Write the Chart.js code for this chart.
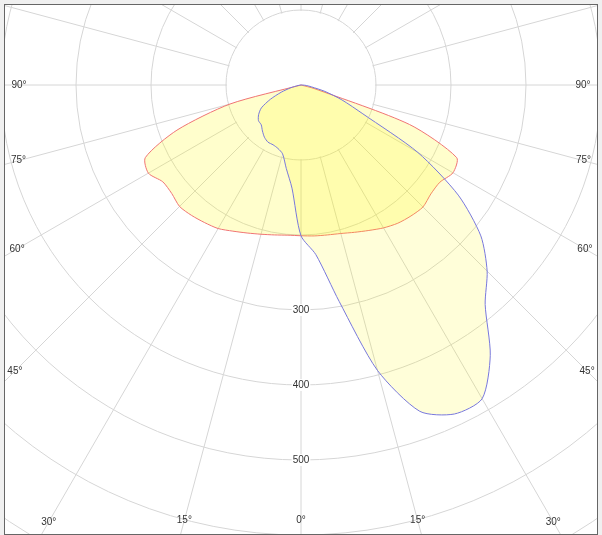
<!DOCTYPE html>
<html>
<head>
<meta charset="utf-8">
<script src="https://cdn.jsdelivr.net/npm/chart.js@4.4.1/dist/chart.umd.min.js"></script>
<style>
  html, body { margin: 0; padding: 0; background: #f0f0f0; }
  #frame { position: absolute; left: 4px; top: 4px; width: 592px; height: 529px;
           border: 1px solid #666; background: #fff; overflow: hidden; }
  #polar { position: absolute; left: -304px; top: -520px; }
</style>
</head>
<body>
<div id="frame"><canvas id="polar" width="1200" height="1200"></canvas></div>
<script>
// Photometric polar curve, cd/klm. Gamma measured from nadir (straight down).

const GAMMA = [0, 5, 10, 15, 20, 25, 30, 35, 40, 45, 50, 55, 60, 65, 70, 75, 80, 85, 90,
               95, 100, 105, 110, 115, 120, 125, 130, 135, 140, 145, 150, 155, 160, 165, 170, 175, 180];

// C0-C180 plane (red): left half, right half
const RED_LEFT  = [201, 201, 203, 206, 210, 215, 221, 224, 227, 229, 225, 225, 235, 229, 176, 98, 0, 0, 0,
                   0, 0, 0, 0, 0, 0, 0, 0, 0, 0, 0, 0, 0, 0, 0, 0, 0, 0];
const RED_RIGHT = [201, 202, 203, 205, 209, 214, 220, 225, 228, 230, 226, 226, 234, 229, 154, 18, 0, 0, 0,
                   0, 0, 0, 0, 0, 0, 0, 0, 0, 0, 0, 0, 0, 0, 0, 0, 0, 0];

// C90-C270 plane (blue)
const BLUE_LEFT  = [201, 138, 113, 95, 90, 88, 88, 85, 80, 75, 74, 69, 61, 45, 28, 14, 4, 0, 0,
                    0, 0, 0, 0, 0, 0, 0, 0, 0, 0, 0, 0, 0, 0, 0, 0, 0, 0];
const BLUE_RIGHT = [201, 227, 293, 394, 463, 484, 483, 440, 382, 351, 313, 256, 180, 91, 58, 33, 14, 7, 2,
                    0, 0, 0, 0, 0, 0, 0, 0, 0, 0, 0, 0, 0, 0, 0, 0, 0, 0];

const ANGLE_MARKS = [0, 15, 30, 45, 60, 75, 90];
const VALUE_MARKS = [300, 400, 500];

const GRID = '#d6d6d6';
const TEXT = '#333';
const FONT = '10px "Liberation Sans", Arial, sans-serif';

// radar index 0 points down and runs clockwise: down, left, up, right
function ring(left, right) {
    return left.concat(right.slice(1, -1).reverse());
}

const labels = ring(GAMMA, GAMMA);

const polarDecor = {
    id: 'polarDecor',
    beforeDatasetsDraw(chart) {
        // keep the spokes out of the innermost ring
        const r = chart.scales.r, ctx = chart.ctx;
        ctx.save();
        ctx.fillStyle = '#fff';
        ctx.beginPath();
        ctx.arc(r.xCenter, r.yCenter, r.getDistanceFromCenterForValue(100) - 1, 0, Math.PI * 2);
        ctx.fill();
        ctx.restore();
    },
    afterDatasetsDraw(chart) {
        const r = chart.scales.r, ctx = chart.ctx, cv = chart.canvas;
        const x0 = -cv.offsetLeft, y0 = -cv.offsetTop;
        const x1 = x0 + cv.parentNode.clientWidth, y1 = y0 + cv.parentNode.clientHeight;
        const n = labels.length;
        ctx.save();
        ctx.font = FONT;
        ctx.textAlign = 'center';
        ctx.textBaseline = 'middle';

        // gamma labels where the spokes leave the frame
        ANGLE_MARKS.forEach(g => {
            const step = g / 5;
            const idxs = g === 0 ? [0] : [step, n - step];
            idxs.forEach(i => {
                const p = r.getPointPosition(i, 1000);
                const dx = (p.x - r.xCenter) / 1000, dy = (p.y - r.yCenter) / 1000;
                let t = Infinity;
                if (dx > 1e-6) t = Math.min(t, (x1 - r.xCenter) / dx);
                if (dx < -1e-6) t = Math.min(t, (x0 - r.xCenter) / dx);
                if (dy > 1e-6) t = Math.min(t, (y1 - r.yCenter) / dy);
                if (dy < -1e-6) t = Math.min(t, (y0 - r.yCenter) / dy);
                t -= 14;
                ctx.fillStyle = TEXT;
                ctx.fillText(g + '°', r.xCenter + dx * t, r.yCenter + dy * t);
            });
        });

        // intensity labels along the nadir spoke
        VALUE_MARKS.forEach(v => {
            const p = r.getPointPositionForValue(0, v);
            const w = ctx.measureText(String(v)).width;
            ctx.fillStyle = '#fff';
            ctx.fillRect(p.x - w / 2 - 1, p.y - 6, w + 2, 12);
            ctx.fillStyle = TEXT;
            ctx.fillText(String(v), p.x, p.y);
        });
        ctx.restore();
    }
};

new Chart(document.getElementById('polar'), {
    type: 'radar',
    data: {
        labels: labels,
        datasets: [{
            label: 'C90-C270',
            data: ring(BLUE_LEFT, BLUE_RIGHT),
            borderColor: '#7878dc',
            backgroundColor: 'rgba(255, 250, 0, 0.15)',
            borderWidth: 1,
            fill: 'origin',
            pointRadius: 0,
            tension: 0.25
        }, {
            label: 'C0-C180',
            data: ring(RED_LEFT, RED_RIGHT),
            borderColor: '#f07474',
            backgroundColor: 'rgba(255, 250, 0, 0.2)',
            borderWidth: 1,
            fill: 'origin',
            pointRadius: 0,
            tension: 0.25
        }]
    },
    options: {
        responsive: false,
        animation: false,
        layout: { padding: 0 },
        plugins: { legend: { display: false }, tooltip: { enabled: false } },
        scales: {
            r: {
                min: 0,
                max: 800,
                startAngle: 180,
                ticks: { display: false, stepSize: 100 },
                pointLabels: { display: false },
                grid: { circular: true, color: GRID, lineWidth: 1 },
                angleLines: { color: GRID, lineWidth: c => (c.index % 3 === 0 ? 1 : 0) }
            }
        }
    },
    plugins: [polarDecor]
});
</script>
</body>
</html>
